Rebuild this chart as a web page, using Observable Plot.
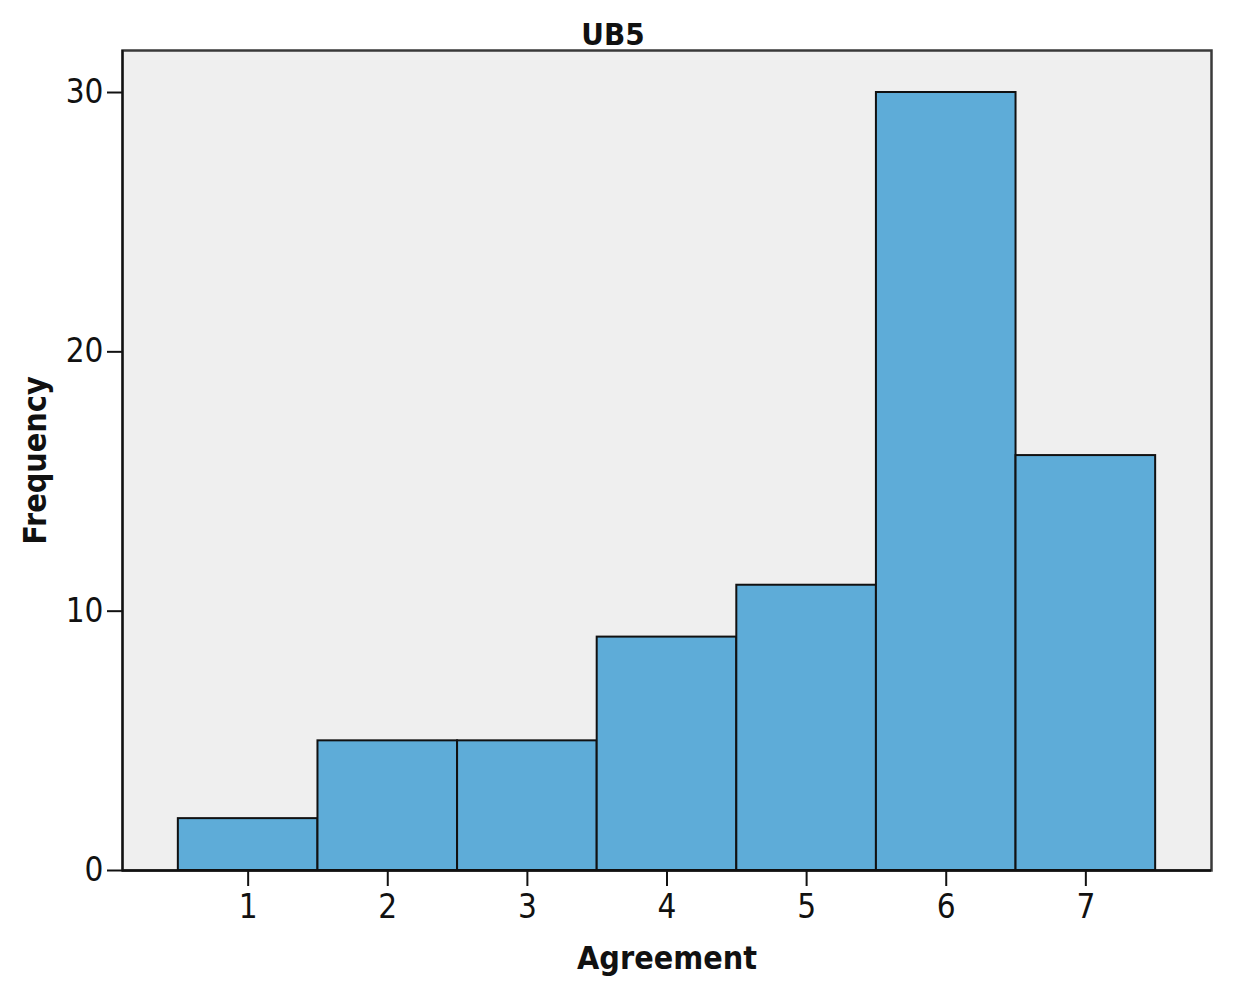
<!DOCTYPE html>
<html>
<head>
<meta charset="utf-8">
<script src="https://cdn.jsdelivr.net/npm/d3@7"></script>
<script src="https://cdn.jsdelivr.net/npm/@observablehq/plot@0.6"></script>
<style>
  html, body { margin: 0; padding: 0; background: #fff; }
  svg { display: block; font-family: "DejaVu Sans", sans-serif; font-stretch: condensed; }
</style>
</head>
<body>
<div id="chart"></div>
<script>
const agreement = [1, 2, 3, 4, 5, 6, 7];
const frequency = [2, 5, 5, 9, 11, 30, 16];
const xTicks = [1, 2, 3, 4, 5, 6, 7];
const yTicks = [0, 10, 20, 30];
const title = "UB5";
const xLabel = "Agreement";
const yLabel = "Frequency";

const data = agreement.map((a, i) => ({a, f: frequency[i]}));

const chart = Plot.plot({
  width: 1238,
  height: 988,
  marginTop: 50,
  marginLeft: 122,
  marginRight: 27,
  marginBottom: 118,
  style: {fontFamily: "DejaVu Sans, sans-serif", background: "#fff", color: "#111"},
  x: {domain: [0.1, 7.9]},
  y: {domain: [0, 31.62]},
  marks: [
    Plot.frame({fill: "#efefef", stroke: "#3a3a3a", strokeWidth: 2.5}),
    Plot.rectY(data, {x1: d => d.a - 0.5, x2: d => d.a + 0.5, y1: 0, y2: "f", fill: "#5eacd8", stroke: "#111", strokeWidth: 2}),
    Plot.ruleY([0], {stroke: "#111", strokeWidth: 2.5}),
    Plot.ruleX([0.1], {stroke: "#111", strokeWidth: 2}),
    Plot.axisY({ticks: yTicks, tickSize: 15, tickPadding: 4, fontSize: 33, label: null, tickFormat: d => String(d), stroke: "#111", strokeWidth: 2}),
    Plot.axisX({ticks: xTicks, tickSize: 16, tickPadding: 8, fontSize: 33, label: null, tickFormat: d => String(d), stroke: "#111", strokeWidth: 2}),
    Plot.text([title], {frameAnchor: "top", dx: -54, dy: -15, lineAnchor: "middle", textAnchor: "middle", fontSize: 31, fontWeight: "bold", fill: "#111"}),
    Plot.text([xLabel], {frameAnchor: "bottom", dy: 88, lineAnchor: "middle", textAnchor: "middle", fontSize: 32, fontWeight: "bold", fill: "#111"}),
    Plot.text([yLabel], {frameAnchor: "left", dx: -87, rotate: -90, lineAnchor: "middle", textAnchor: "middle", fontSize: 32, fontWeight: "bold", fill: "#111"})
  ]
});
document.getElementById("chart").appendChild(chart);
</script>
</body>
</html>
